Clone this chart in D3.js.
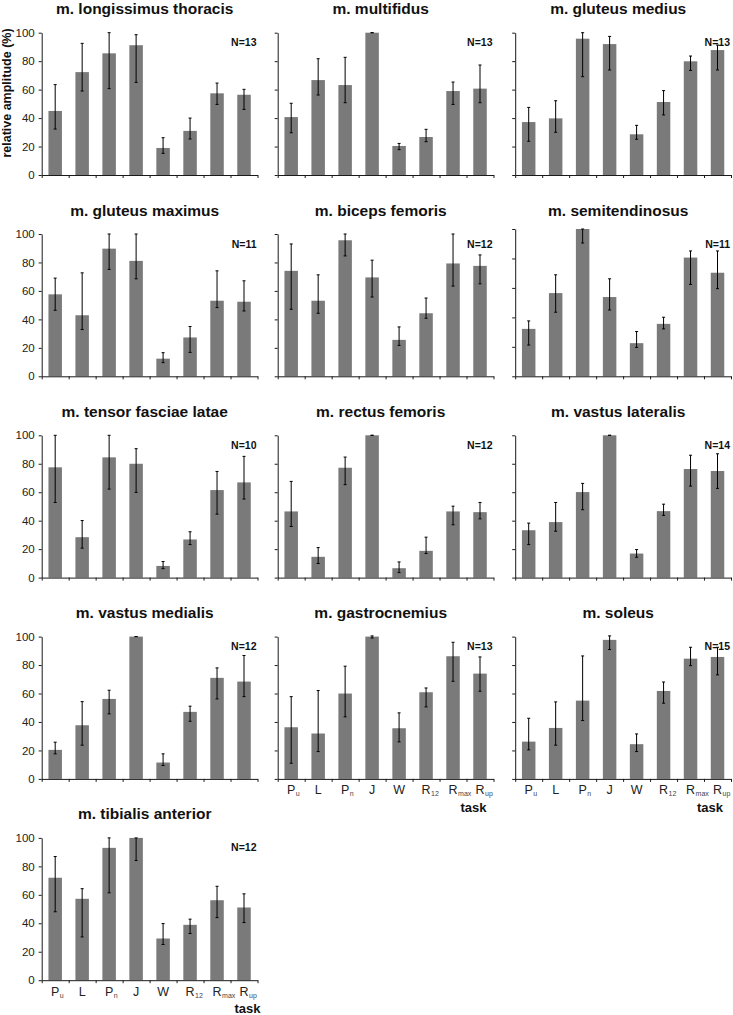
<!DOCTYPE html>
<html><head><meta charset="utf-8">
<script src="https://cdn.jsdelivr.net/npm/d3@7/dist/d3.min.js"></script>
<style>body{margin:0;background:#fff}svg{display:block}</style>
</head><body><svg id="c" width="733" height="1015"></svg>
<script>
// ---- data ----
const muscles = ["m. longissimus thoracis","m. multifidus","m. gluteus medius",
  "m. gluteus maximus","m. biceps femoris","m. semitendinosus",
  "m. tensor fasciae latae","m. rectus femoris","m. vastus lateralis",
  "m. vastus medialis","m. gastrocnemius","m. soleus","m. tibialis anterior"];
const nSubjects = [13,13,13,11,12,11,10,12,14,12,13,15,12];
const taskBase = ["P","L","P","J","W","R","R","R"];
const taskSub  = ["u","","n","","","12","max","up"];
const yTicks = [0,20,40,60,80,100];
const meanValues = [
  [45.0,72.3,85.5,91.2,19.0,31.0,57.4,56.4],
  [40.7,66.7,63.2,100,20.4,26.7,59.0,60.7],
  [37.2,39.8,95.8,92.0,28.6,51.3,79.9,87.8],
  [57.6,42.9,89.7,81.1,12.4,27.3,53.1,52.4],
  [74.1,53.1,95.6,69.5,25.6,44.3,79.3,77.6],
  [32.2,56.5,100,53.8,22.5,35.6,80.6,70.3],
  [77.5,28.4,84.5,80.0,8.2,26.8,61.5,66.9],
  [46.5,14.6,77.2,100,6.6,18.8,46.5,46.0],
  [33.3,39.0,60.1,100,16.9,46.7,76.3,74.9],
  [20.4,37.7,56.2,100,11.5,47.1,71.0,68.4],
  [36.3,31.9,60.0,100,35.6,60.9,86.2,74.0],
  [26.2,35.8,55.0,97.7,24.4,61.8,84.5,85.7],
  [72.0,57.2,93.0,100,29.3,38.9,56.2,51.1]
];
const errHigh = [
  [63.5,92.5,100,98.6,26.2,40.0,64.6,60.2],
  [50.4,81.7,82.7,100,22.2,32.1,65.3,77.3],
  [47.5,52.2,100,97.4,34.9,59.3,83.6,91.3],
  [69.0,72.7,100,100,16.6,35.0,74.1,67.1],
  [93.0,71.3,100,81.6,34.7,55.0,100,85.3],
  [37.6,68.9,100,66.2,30.4,40.1,85.1,85.1],
  [100,40.1,100,90.6,11.3,32.2,74.6,85.2],
  [67.6,21.1,84.7,100,11.0,28.4,50.2,52.8],
  [38.3,52.8,66.2,100,19.7,51.6,86.0,87.0],
  [25.8,54.3,62.3,100,17.6,51.1,78.0,86.7],
  [57.8,62.1,79.2,100.5,46.4,63.9,96.0,85.7],
  [42.6,54.1,86.4,100.5,31.6,68.1,92.5,92.5],
  [86.9,64.3,100,100,39.8,42.9,66.0,60.7]
];
const errLow = [
  [32.3,59.0,60.7,65.1,15.2,25.3,49.6,46.1],
  [29.7,56.2,50.8,100,17.8,23.4,49.6,50.8],
  [23.7,30.0,69.1,73.8,25.1,42.2,73.5,73.8],
  [46.4,32.9,75.1,68.5,9.6,16.8,48.3,45.9],
  [47.1,44.3,84.6,55.7,21.7,40.8,63.4,65.0],
  [21.2,43.5,90.5,45.0,19.6,32.2,62.4,59.5],
  [52.8,20.7,62.2,59.9,6.3,23.2,44.6,55.2],
  [35.9,9.9,65.3,100,3.5,16.9,37.1,41.3],
  [23.2,32.6,47.7,100,14.3,43.7,64.3,62.7],
  [17.6,23.7,45.7,100,9.4,40.5,56.2,57.8],
  [11.0,19.2,43.6,99.0,26.0,50.6,68.6,61.6],
  [20.4,23.7,41.0,90.9,19.2,53.2,79.6,73.1],
  [48.1,30.4,61.4,84.1,25.1,32.8,44.0,40.5]
];
const labelledPanels = [10,11,12];

// ---- layout ----
const colX = [41.7, 277.7, 515.2];
const panelW = 215.8, panelH = 142.3, rowPitch = 201.3, firstTop = 32.7;
const topShift = {5: -5};
const taskShift = [3, -7, -8];
const font = "'Liberation Sans', Arial, sans-serif";
const barColor = "#7a7a7a", axisColor = "#1a1a1a";

const svg = d3.select("#c");

muscles.forEach((name, i) => {
  const row = Math.floor(i/3), col = i%3;
  const x0 = colX[col];
  const rowTop = firstTop + row*rowPitch;
  const y0 = rowTop + panelH;
  const yTop = rowTop + (topShift[i]||0);
  const g = svg.append("g");
  const keys = d3.range(8);
  const x = d3.scaleBand().domain(keys).range([x0, x0+panelW]).paddingInner(0.5).paddingOuter(0.25);
  const xl = d3.scaleLinear().domain([0,8]).range([x0, x0+panelW]);
  const y = d3.scaleLinear().domain([0,100]).range([y0, yTop]);
  const cx = j => x(j)+x.bandwidth()/2;

  // title
  g.append("text").attr("x", x0+103).attr("y", rowTop - 18.5)
    .attr("text-anchor","middle").attr("font-family",font).attr("font-weight","bold")
    .attr("font-size",15.5).attr("fill","#111").text(name);

  // bars
  g.selectAll("rect.bar").data(meanValues[i]).join("rect")
    .attr("x",(d,j)=>x(j)).attr("width",x.bandwidth())
    .attr("y",d=>y(d)).attr("height",d=>y0-y(d))
    .attr("fill",barColor);

  // error bars
  const eb = g.selectAll("g.eb").data(keys).join("g")
    .attr("stroke","#000").attr("stroke-width",1);
  eb.append("line").attr("x1",cx).attr("x2",cx)
    .attr("y1",j=>y(errLow[i][j])).attr("y2",j=>y(errHigh[i][j]));
  eb.append("line").attr("x1",j=>cx(j)-1.5).attr("x2",j=>cx(j)+1.5)
    .attr("y1",j=>y(errHigh[i][j])).attr("y2",j=>y(errHigh[i][j]));
  eb.append("line").attr("x1",j=>cx(j)-1.5).attr("x2",j=>cx(j)+1.5)
    .attr("y1",j=>y(errLow[i][j])).attr("y2",j=>y(errLow[i][j]));

  // y axis
  const ya = g.append("g").attr("transform",`translate(${x0},0)`)
    .call(d3.axisLeft(y).tickValues(yTicks).tickSize(3).tickSizeOuter(0)
      .tickFormat(col===0 ? d3.format("d") : ""));
  ya.selectAll("path,line").attr("stroke",axisColor);
  ya.selectAll("text").attr("font-family",font).attr("font-size",11.5).attr("fill","#222").attr("dx",-1);

  // x axis
  const xa = g.append("g").attr("transform",`translate(0,${y0})`)
    .call(d3.axisBottom(xl).tickValues(d3.range(9)).tickSize(3).tickSizeOuter(0).tickFormat(""));
  xa.selectAll("path,line").attr("stroke",axisColor);

  // N label
  g.append("text").attr("x", x0+panelW-1).attr("y", rowTop + 13.5)
    .attr("text-anchor","end").attr("font-family",font).attr("font-weight","bold")
    .attr("font-size",10.5).attr("fill","#111").text("N=" + nSubjects[i]);

  // x labels
  if (labelledPanels.includes(i)) {
    const base = g.selectAll("text.xb").data(keys).join("text").attr("class","xb")
      .attr("x", cx).attr("y", y0+15.5).attr("text-anchor","middle")
      .attr("font-family",font).attr("font-size",12.5).attr("fill","#222")
      .text(j=>taskBase[j]);
    const widths = base.nodes().map(n => n.getComputedTextLength());
    g.selectAll("text.xs").data(keys.filter(j=>taskSub[j])).join("text").attr("class","xs")
      .attr("x", j => cx(j) + widths[j]/2 + 0.5).attr("y", y0+17.5)
      .attr("font-family",font).attr("font-size",7).attr("fill","#444")
      .text(j=>taskSub[j]);
    g.append("text").attr("x", x0+panelW+taskShift[col]).attr("y", y0+33)
      .attr("text-anchor","end").attr("font-family",font).attr("font-weight","bold")
      .attr("font-size",13).attr("fill","#111").text("task");
  }
});

// y-axis title
svg.append("text").attr("transform","translate(11,93) rotate(-90)")
  .attr("text-anchor","middle").attr("font-family",font).attr("font-weight","bold")
  .attr("font-size",12.5).attr("fill","#111").text("relative amplitude (%)");
</script></body></html>
